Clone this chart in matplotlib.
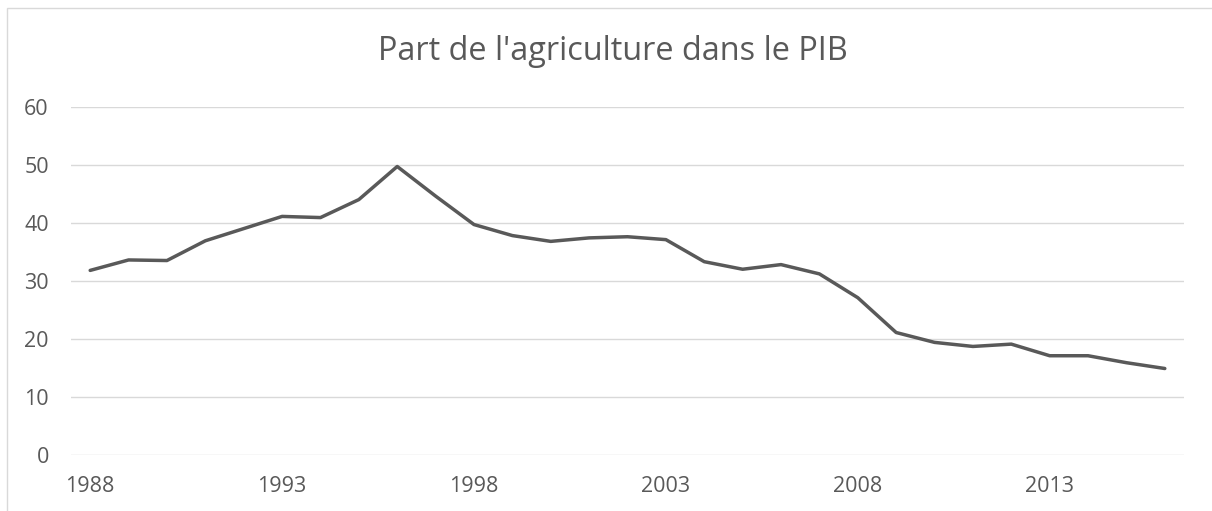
import numpy as np
import matplotlib
matplotlib.use("Agg")
from matplotlib import pyplot as plt
from matplotlib.patches import Rectangle

# données
years = list(range(1988, 2017))
part_agri = [31.8, 33.6, 33.5, 36.9, 39.0, 41.1, 40.9, 44.0, 49.7, 44.6,
             39.7, 37.8, 36.8, 37.4, 37.6, 37.1, 33.3, 32.0, 32.8, 31.2,
             27.1, 21.1, 19.4, 18.7, 19.1, 17.1, 17.1, 15.9, 14.9]
y_ticks = [0, 10, 20, 30, 40, 50, 60]
title = "Part de l'agriculture dans le PIB"

plt.rcParams['font.family'] = ['Open Sans', 'DejaVu Sans']
grey_txt = '#595959'

fig = plt.figure(figsize=(12.12, 5.11), dpi=100)
ax = fig.add_axes([71/1212, 1 - 455/511, (1184 - 71)/1212, (455 - 106.7)/511])

x = np.arange(len(years))
ax.plot(x, part_agri, color='#595959', lw=2.5, solid_joinstyle='round', solid_capstyle='round')

ax.set_xlim(-0.5, len(years) - 0.5)
ax.set_ylim(0, 60)
ax.set_yticks(y_ticks)
ax.set_xticks(x[::5])
ax.set_xticklabels([str(y) for y in years[::5]])
ax.grid(axis='y', color='#d9d9d9', lw=1)
ax.set_axisbelow(True)
for s in ax.spines.values():
    s.set_visible(False)
ax.tick_params(length=0, labelsize=15.5, colors=grey_txt)
ax.tick_params(axis='y', pad=16)
ax.tick_params(axis='x', pad=15)

fig.text(0.506, 1 - 52/511, title, ha='center', va='center', fontsize=23.4, color=grey_txt)

# cadre du graphique
fig.patches.append(Rectangle((7/1212, -0.1), 1.2, 1 - 8/511 + 0.1, transform=fig.transFigure,
                             fill=False, edgecolor='#d9d9d9', lw=1))

plt.savefig('out.png', dpi=100)
plt.close()
